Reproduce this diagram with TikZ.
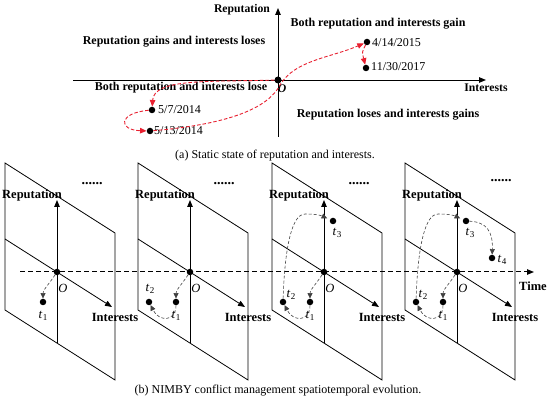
\documentclass[tikz,border=0pt]{standalone}
\usepackage{fontspec}
\setmainfont{Liberation Serif}
\usetikzlibrary{arrows.meta}
\definecolor{trajred}{RGB}{232,32,48}
\newcommand{\tsub}[1]{\textit{t}\kern0.2pt\raisebox{-0.45ex}{\fontsize{9}{10}\selectfont #1}}
\begin{document}
\begin{tikzpicture}[x=1pt,y=-1pt,
  every node/.style={inner sep=0pt},
  dot/.style={circle,fill=black,inner sep=0pt,minimum size=6.5pt},
  axisline/.style={line width=0.9pt,-{Triangle[length=7pt,width=5.5pt]}},
  frame/.style={line width=0.8pt},
  redpath/.style={trajred,line width=0.9pt,dash pattern=on 3.5pt off 2pt,-{Triangle[length=6.5pt,width=5.5pt]}},
  tpath/.style={black!75,line width=0.6pt,dash pattern=on 3pt off 2pt,-{Triangle[length=5.5pt,width=5pt]}},
  timeline/.style={line width=1pt,dash pattern=on 5pt off 3pt,-{Triangle[length=7pt,width=5.5pt]}},
  qlabel/.style={font=\bfseries\fontsize{12}{14}\selectfont},
  axlabel/.style={font=\bfseries\fontsize{11.7}{14}\selectfont},
  txt/.style={font=\fontsize{12}{14}\selectfont},
  tlab/.style={font=\fontsize{13}{15}\selectfont},
  panlabel/.style={font=\bfseries\fontsize{12.5}{14}\selectfont},
]
\useasboundingbox[fill=white] (0,0) rectangle (550,403);

% ---------- (a) static state ----------
\coordinate (hx0) at (73,80);
\coordinate (hx1) at (486,80);
\coordinate (vy0) at (278,137);
\coordinate (vy1) at (278,8);
\draw[axisline] (hx0) -- (hx1);
\draw[axisline] (vy0) -- (vy1);

\node[dot,minimum size=7pt] (O) at (278,80) {};
\node[dot] (d57) at (152,110) {};
\node[dot] (d513) at (150,131) {};
\node[dot] (d414) at (367,42) {};
\node[dot] (d1130) at (366,68) {};

\node[axlabel] (lrep) at (242,10) {Reputation};
\node[axlabel] (lint) at (486,88) {Interests};
\node[qlabel] (q1) at (378,24) {Both reputation and interests gain};
\node[qlabel] (q2) at (174,42) {Reputation gains and interests loses};
\node[qlabel] (q3) at (181,88) {Both reputation and interests lose};
\node[qlabel] (q4) at (388,115) {Reputation loses and interests gains};
\node[font=\bfseries\itshape\fontsize{11.7}{14}\selectfont] (lO) at (282,89) {O};

\node[txt,anchor=west] (l57) at (158,110) {5/7/2014};
\node[txt,anchor=west] (l513) at (154,131) {5/13/2014};
\node[txt,anchor=west] (l414) at (372,43) {4/14/2015};
\node[txt,anchor=west] (l1130) at (371,67) {11/30/2017};

\draw[redpath] (O) .. controls (210,82) and (154,78) .. (d57);
\draw[redpath] (d57) .. controls (118,113) and (118,130) .. (d513);
\draw[redpath] (d513) .. controls (230,124) and (268,108) .. (280,85)
   .. controls (295,60) and (330,58) .. (d414);
\draw[redpath] (d414) .. controls (362,52) .. (d1130);

\node[txt] (capa) at (275,156) {(a) Static state of reputation and interests.};

% ---------- (b) spatiotemporal evolution ----------
\coordinate (ts) at (20,272);
\coordinate (te) at (534,272);
\draw[timeline] (ts) -- (te);
\node[panlabel] (ltime) at (533,286) {Time};

\foreach \i/\ox/\tx/\ty/\dx/\dy in {1/57/0/0/35/-87, 2/190/-40/17/34/-87, 3/324/-33/23/35/-87, 4/457/-34/23/44/-90}{
\begin{scope}[shift={(\ox,272)}]
  \draw[frame] (-52,-109) -- (58,-39) -- (58,108) -- (-52,38) -- cycle;
  \coordinate (ia\i) at (-52,-33);
  \coordinate (ib\i) at (55,35);
  \draw[axisline,line width=0.8pt] (ia\i) -- (ib\i);
  \coordinate (ra\i) at (0,71);
  \coordinate (rb\i) at (0,-72);
  \draw[axisline] (ra\i) -- (rb\i);
  \node[panlabel,anchor=west] (rep\i) at (-55,-77) {Reputation};
  \node[panlabel] (int\i) at (58,45) {Interests};
  \node[font=\itshape\fontsize{12.5}{14}\selectfont] (ol\i) at (6,16) {O};
  \node[font=\bfseries\fontsize{14}{16}\selectfont,anchor=base] (dd\i) at (\dx,\dy) {......};
  \node[dot] (O\i) at (0,0) {};
  \node[dot] (ta\i) at (-14,30) {};
  \node[tlab] (lta\i) at (-14,44) {\tsub{1}};
  \draw[tpath] (O\i) .. controls (-8,12) and (-14,18) .. (ta\i);
  \ifnum\i>1
    \node[dot] (tb\i) at (-41,30) {};
    \node[tlab] (ltb\i) at (\tx,\ty) {\tsub{2}};
    \draw[tpath] (ta\i) .. controls (-14,50) and (-31,50) .. (tb\i);
  \fi
  \ifnum\i>2
    \node[dot] (tc\i) at (9,-51) {};
    \node[tlab] (ltc\i) at (13,-39) {\tsub{3}};
    \draw[tpath,shorten >=3pt] (tb\i) .. controls (-39,-30) and (-31,-58) .. (-19,-58)
       .. controls (-10,-58) and (-4,-57) .. (tc\i);
  \fi
  \ifnum\i>3
    \node[dot] (td\i) at (35,-14) {};
    \node[tlab] (ltd\i) at (45,-12) {\tsub{4}};
    \draw[tpath] (tc\i) .. controls (30,-50) and (36,-40) .. (td\i);
  \fi
\end{scope}
}

\node[txt] (capb) at (278,391) {(b) NIMBY conflict management spatiotemporal evolution.};
\end{tikzpicture}
\end{document}
